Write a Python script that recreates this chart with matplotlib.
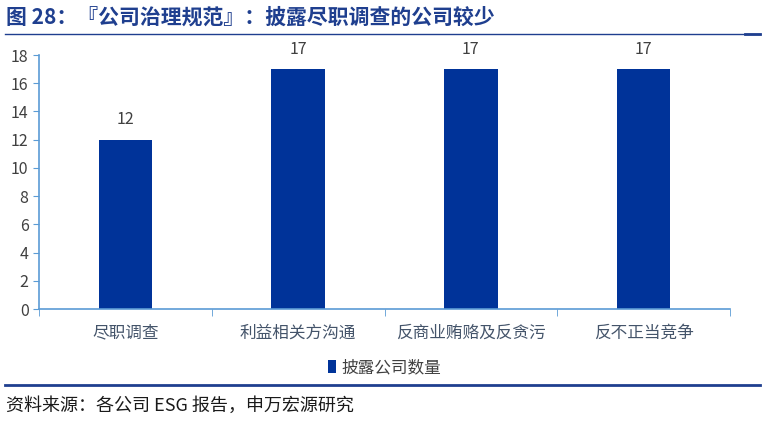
import matplotlib
matplotlib.use("Agg")
import matplotlib.pyplot as plt

plt.rcParams['font.family'] = ['Noto Sans CJK SC', 'DejaVu Sans']

categories = ["尽职调查", "利益相关方沟通", "反商业贿赂及反贪污", "反不正当竞争"]
values = [12, 17, 17, 17]
series_name = "披露公司数量"
title = "图 28：『公司治理规范』：披露尽职调查的公司较少"
source = "资料来源：各公司 ESG 报告，申万宏源研究"

bar_color = "#003399"
axis_color = "#5b9bd5"
text_color = "#404040"

fig = plt.figure(figsize=(7.67, 4.21), dpi=100)
ax = fig.add_axes([39/767, 1-309/421, (730-39)/767, (309-55)/421])

x = range(len(categories))
bars = ax.bar(x, values, width=0.31, color=bar_color, label=series_name)
for b, v in zip(bars, values):
    ax.text(b.get_x() + b.get_width()/2, v + 0.8, str(v), ha="center", va="bottom",
            fontsize=11.5, color=text_color)

ax.set_xlim(-0.5, len(categories) - 0.5)
ax.set_ylim(0, 18)
ax.set_yticks(range(0, 19, 2))
ax.set_xticks(list(x))
ax.set_xticklabels(categories, fontsize=12, color="#44546a")
ax.set_xticks([i + 0.5 for i in range(-1, len(categories))], minor=True)
ax.tick_params(axis="x", which="major", length=0, pad=11)
ax.tick_params(axis="x", which="minor", length=5, color=axis_color, direction="out")
ax.tick_params(axis="y", length=4, color=axis_color, labelsize=11.5, labelcolor=text_color)

for s in ["top", "right"]:
    ax.spines[s].set_visible(False)
for s in ["left", "bottom"]:
    ax.spines[s].set_color(axis_color)
    ax.spines[s].set_linewidth(1.2)

ax.legend(loc="upper center", bbox_to_anchor=(0.5, -0.14), frameon=False,
          fontsize=12, handlelength=0.5, handleheight=0.8, handletextpad=0.3,
          labelcolor=text_color)

fig.text(6/767, 1-17/421, title, fontsize=15, fontweight="bold", color="#1f3f8f",
         va="center", ha="left")
fig.add_artist(plt.Line2D([5/767, 760/767], [1-34/421, 1-34/421], color="#1f3f8f", lw=1.0))
fig.add_artist(plt.Line2D([745/767, 760/767], [1-34/421, 1-34/421], color="#1f3f8f", lw=2.0))
fig.add_artist(plt.Line2D([5/767, 760/767], [1-385/421, 1-385/421], color="#1f3f8f", lw=2.0))
fig.text(6/767, 1-406/421, source, fontsize=13, color="#1a1a1a", va="center", ha="left")

fig.savefig("out.png", dpi=100)
